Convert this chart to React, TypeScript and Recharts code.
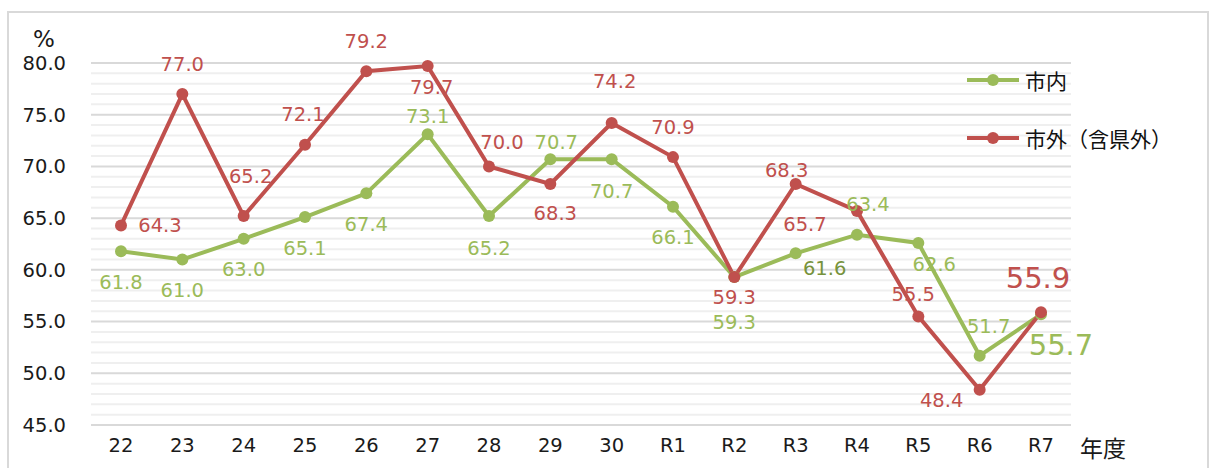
import { LineChart, Line, XAxis, YAxis, CartesianGrid, LabelList, Legend, ReferenceLine } from 'recharts';

const years = ['22', '23', '24', '25', '26', '27', '28', '29', '30', 'R1', 'R2', 'R3', 'R4', 'R5', 'R6', 'R7'];
const cityRates = [61.8, 61.0, 63.0, 65.1, 67.4, 73.1, 65.2, 70.7, 70.7, 66.1, 59.3, 61.6, 63.4, 62.6, 51.7, 55.7];
const outsideRates = [64.3, 77.0, 65.2, 72.1, 79.2, 79.7, 70.0, 68.3, 74.2, 70.9, 59.3, 68.3, 65.7, 55.5, 48.4, 55.9];
const yTicks = [45, 50, 55, 60, 65, 70, 75, 80];
// minor gridlines every 1.0 between the major ticks
const minorTicks = Array.from({ length: 36 }, (_, i) => 45 + i).filter((v) => v % 5 !== 0);

// label offsets (dx, dy) from each point, placed by hand like the original
const cityLabelPos: [number, number][] = [
  [0, 31], [0, 31], [0, 31], [0, 31], [0, 31], [0, -18], [0, 32], [6, -17],
  [0, 32], [0, 31], [0, 45], [29, 15], [11, -30], [16, 22], [9, -29], [20, 31],
];
const outsideLabelPos: [number, number][] = [
  [39, 0], [0, -30], [7, -40], [-2, -30], [0, -30], [4, 21], [13, -24], [5, 29],
  [3, -41], [0, -30], [0, 20], [-9, -14], [-52, 14], [-5, -22], [-38, 11], [-3, -34],
];

const data = years.map((year, i) => ({ year, city: cityRates[i], outside: outsideRates[i] }));

const GREEN = '#9BBB59';
const RED = '#C0504D';
const NUM_FONT = "'DejaVu Sans', 'Noto Sans', sans-serif";
const JP_FONT = "'Noto Sans CJK JP', sans-serif";

const makeLabel = (pos: [number, number][], color: string, accent?: number) => (props: any) => {
  const { index, value } = props;
  const x = props.viewBox?.x ?? props.x;
  const y = props.viewBox?.y ?? props.y;
  const [dx, dy] = pos[index];
  const last = index === years.length - 1;
  const fill = accent === index ? '#77933C' : color;
  return (
    <text
      x={x + dx}
      y={y + dy}
      textAnchor="middle"
      dominantBaseline="central"
      fill={fill}
      fontFamily={NUM_FONT}
      fontSize={last ? 29 : 19.5}
    >
      {Number(value).toFixed(1)}
    </text>
  );
};

const LegendBox = () => (
  <div style={{ fontFamily: JP_FONT, fontSize: 21, color: '#111' }}>
    {[
      { name: '市内', color: GREEN },
      { name: '市外（含県外）', color: RED },
    ].map((item) => (
      <div key={item.name} style={{ display: 'flex', alignItems: 'center', height: 30, marginBottom: 28 }}>
        <svg width={58} height={20}>
          <line x1={0} y1={10} x2={52} y2={10} stroke={item.color} strokeWidth={4} />
          <circle cx={26} cy={10} r={6} fill={item.color} />
        </svg>
        <span style={{ whiteSpace: 'nowrap' }}>{item.name}</span>
      </div>
    ))}
  </div>
);

export default function App() {
  return (
    <div>
      <style>{`body{margin:0;overflow:hidden;background:#fff}`}</style>
      <div
        style={{
          position: 'absolute',
          left: 7,
          top: 11,
          width: 1202,
          height: 460,
          boxSizing: 'border-box',
          border: '2px solid #d9d9d9',
          borderBottom: 'none',
        }}
      />
      <div style={{ position: 'absolute', left: 0, top: 0, width: 1211, height: 468 }}>
        <LineChart width={1211} height={468} data={data} margin={{ top: 63, right: 140, left: 0, bottom: 0 }}>
          <CartesianGrid vertical={false} stroke="#d9d9d9" strokeWidth={2} />
          {minorTicks.map((v) => (
            <ReferenceLine key={v} y={v} stroke="#efefef" strokeWidth={2} />
          ))}
          <XAxis
            dataKey="year"
            height={43}
            padding={{ left: 30, right: 30 }}
            tickLine={false}
            axisLine={false}
            tickSize={0}
            tickMargin={13}
            interval={0}
            tick={{ fill: '#1a1a1a', fontSize: 19.5, fontFamily: NUM_FONT }}
          />
          <YAxis
            width={91}
            domain={[45, 80]}
            ticks={yTicks}
            interval={0}
            tickFormatter={(v) => Number(v).toFixed(1)}
            tickLine={false}
            axisLine={false}
            tickSize={0}
            tickMargin={25}
            tick={{ fill: '#1a1a1a', fontSize: 19.5, fontFamily: NUM_FONT }}
          />
          <Legend
            layout="vertical"
            verticalAlign="middle"
            align="center"
            wrapperStyle={{ position: 'absolute', left: 967, top: 65, width: 240, height: 120 }}
            content={() => <LegendBox />}
          />
          <Line
            dataKey="city"
            stroke={GREEN}
            strokeWidth={4}
            dot={{ r: 6, fill: GREEN, stroke: GREEN, strokeWidth: 0 }}
            activeDot={false}
            isAnimationActive={false}
          >
            <LabelList dataKey="city" content={makeLabel(cityLabelPos, GREEN, 11)} />
          </Line>
          <Line
            dataKey="outside"
            stroke={RED}
            strokeWidth={4}
            dot={{ r: 6, fill: RED, stroke: RED, strokeWidth: 0 }}
            activeDot={false}
            isAnimationActive={false}
          >
            <LabelList dataKey="outside" content={makeLabel(outsideLabelPos, RED)} />
          </Line>
        </LineChart>
      </div>
      <div style={{ position: 'absolute', left: 33, top: 26, fontFamily: NUM_FONT, fontSize: 23, color: '#1a1a1a' }}>%</div>
      <div style={{ position: 'absolute', left: 1080, top: 430, fontFamily: JP_FONT, fontSize: 23, color: '#1a1a1a' }}>年度</div>
    </div>
  );
}
